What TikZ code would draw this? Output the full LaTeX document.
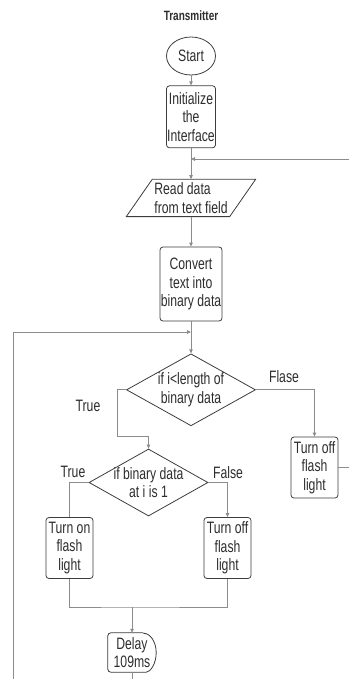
\documentclass[tikz,border=0pt]{standalone}
\usepackage{fontspec}
\setmainfont{Liberation Sans}[FakeStretch=0.74]
\usetikzlibrary{shapes.geometric, arrows.meta, positioning}
\definecolor{BoxGray}{RGB}{60,60,60}
\definecolor{LineGray}{RGB}{140,140,140}
\definecolor{TextGray}{RGB}{45,45,45}

\begin{document}
\begin{tikzpicture}[
  x=1pt, y=1pt,
  font=\fontsize{16.5}{18.5}\selectfont,
  text=TextGray,
  node distance=10pt,
  process/.style={rectangle, rounded corners=3pt, draw=BoxGray, line width=0.8pt,
                  align=center, inner xsep=0.5pt, inner ysep=2pt},
  terminal/.style={ellipse, draw=BoxGray, line width=0.8pt, inner sep=0pt,
                   minimum width=49pt, minimum height=38pt},
  decision/.style={diamond, aspect=2, draw=BoxGray, line width=0.8pt, align=center,
                   inner xsep=-8pt, inner ysep=-5pt},
  iobox/.style={rectangle, align=left, inner sep=0pt},
  delaybox/.style={rectangle, align=center, inner sep=0pt},
  boxline/.style={draw=BoxGray, line width=0.8pt},
  line/.style={LineGray, line width=0.8pt},
  arrow/.style={line, -{Triangle[length=4pt, width=3.5pt]}},
  lbl/.style={inner sep=1pt}
]
\useasboundingbox (0,0) rectangle (349,-679);

\node[font=\fontsize{13.5}{15}\selectfont\bfseries] (title) at (191,-16) {Transmitter};

\node[terminal] (start) at (191,-56) {Start};

\node[process, minimum width=49pt, minimum height=62pt, below=10pt of start]
    (init) {Initialize\\the\\Interface};

\node[iobox, minimum width=103pt, minimum height=37pt, below=31pt of init]
    (read) {Read data\\from text field};
\draw[boxline] ([xshift=13pt]read.north west) -- ([xshift=13pt]read.north east)
  -- ([xshift=-13pt]read.south east) -- ([xshift=-13pt]read.south west) -- cycle;

\node[process, minimum width=62pt, minimum height=74pt, below=30pt of read]
    (conv) {Convert\\text into\\binary data};

\node[decision, minimum width=129pt, minimum height=72pt, below=32pt of conv]
    (cond1) {if i<length of\\binary data};

\node[decision, minimum width=119pt, minimum height=67pt]
    (cond2) at (148.5,-482.5) {if binary data\\at i is 1};

\node[process, minimum width=47pt, minimum height=61pt]
    (on) at (69.5,-548) {Turn on\\flash\\light};
\node[process, minimum width=47pt, minimum height=61pt]
    (offA) at (227.5,-548) {Turn off\\flash\\light};
\node[process, minimum width=47pt, minimum height=61pt]
    (offB) at (314.5,-467.5) {Turn off\\flash\\light};

\node[delaybox, minimum width=48pt, minimum height=39pt]
    (delay) at (132,-652.5) {Delay\\109ms};
\draw[boxline, rounded corners=3pt] ([xshift=-13pt]delay.north east) -- (delay.north west)
  -- (delay.south west) -- ([xshift=-13pt]delay.south east)
  arc[start angle=-90, end angle=90, x radius=13pt, y radius=19.5pt];

% labels
\node[lbl] (t1) at (88,-406) {True};
\node[lbl] (f1) at (284,-377) {Flase};
\node[lbl] (t2) at (73,-472) {True};
\node[lbl] (f2) at (228,-473) {False};

% loose ends
\coordinate (loopR) at (349,-159);
\coordinate (join1) at (191,-159);
\coordinate (loopL) at (13,-679);
\coordinate (join2) at (191,-332);
\coordinate (exitR) at (349,-467.5);
\coordinate (merge) at (132,-607);
\coordinate (bottomOut) at (132,-679);

\draw[arrow] (start) -- (init);
\draw[arrow] (init) -- (read.north);
\draw[arrow] (loopR) -- (join1);
\draw[arrow] (read.south) -- (conv);
\draw[arrow] (conv) -- (cond1);
\draw[arrow] (loopL) |- (join2);
\draw[arrow] (cond1.west) -- ++(-9,0) |- ([yshift=12pt]cond2.north) -- (cond2.north);
\draw[arrow] (cond1.east) -| (offB.north);
\draw[line] (cond2.west) -| (on.north);
\draw[arrow] (cond2.east) -| (offA.north);
\draw[line] (on.south) |- (merge) -| (offA.south);
\draw[arrow] (merge) -- (delay.north);
\draw[line] (delay.south) -- (bottomOut);
\draw[line] (offB.east) -- (exitR);

\end{tikzpicture}
\end{document}
